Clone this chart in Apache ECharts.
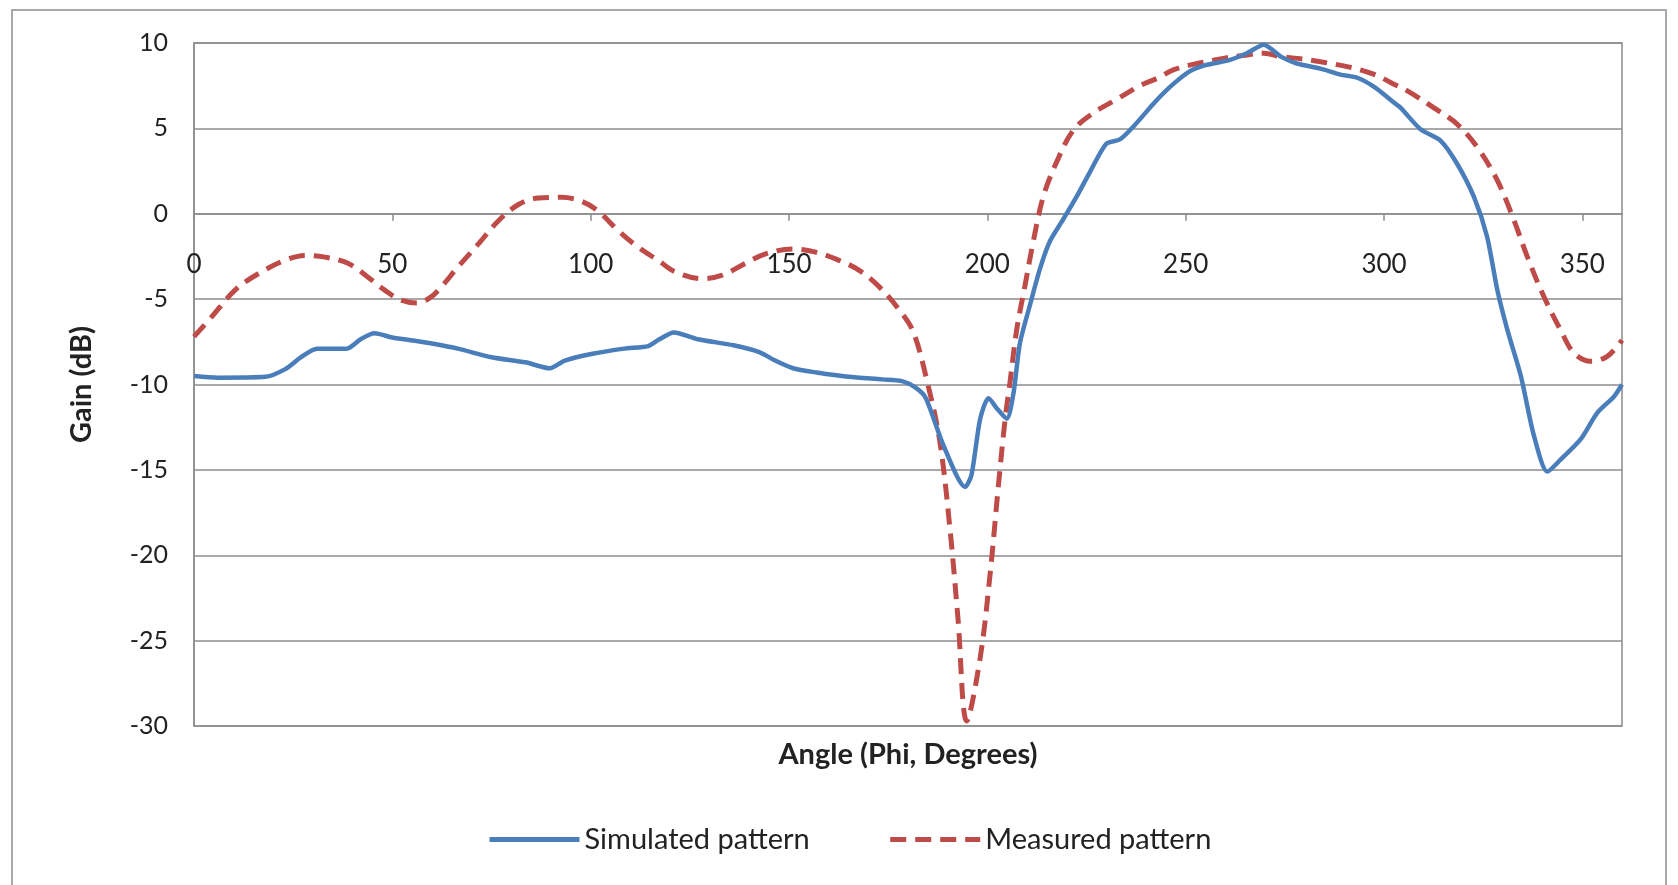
<!DOCTYPE html>
<html>
<head>
<meta charset="utf-8">
<title>Gain pattern</title>
<script src="https://cdn.jsdelivr.net/npm/echarts@6/dist/echarts.min.js"></script>
<style>
  html, body { margin: 0; padding: 0; background: #fff; }
  #chart { width: 1678px; height: 885px; }
</style>
</head>
<body>
<div id="chart"></div>
<script>
// simulated pattern (solid blue)
const simAngle = [0, 6, 18, 23, 27, 31, 38.5, 42, 45.5, 50, 56, 60, 66.5, 75, 83.5, 89.7, 93.5, 100.5, 108.5, 114.5,
  117, 121, 127, 136, 142.5, 146.5, 151, 157, 165, 173.5, 178.5, 182, 184.5, 189, 194.4, 196, 198.2, 200.3, 202.4, 204.9,
  206.6, 208.2, 210.8, 213.3, 215.8, 219.2, 222.5, 226, 230, 233.4, 236.8, 242.5, 246.7, 251, 255, 261, 265.4, 269.7, 274, 278,
  284, 289, 293.4, 297.7, 302, 304.2, 309.2, 314.3, 318.5, 322.7, 326, 328.6, 331.1, 334.5, 337.8, 341.2, 344.5, 349.6, 353.8, 358, 360]
const simGain = [-9.5, -9.6, -9.55, -9.1, -8.4, -7.9, -7.9, -7.35, -7.0, -7.25, -7.45, -7.6, -7.9, -8.4, -8.7, -9.05, -8.6, -8.2, -7.9, -7.75,
  -7.4, -6.95, -7.35, -7.7, -8.1, -8.6, -9.05, -9.3, -9.55, -9.7, -9.8, -10.2, -10.8, -13.6, -16.0, -15.3, -12.0, -10.8, -11.4, -12.0,
  -10.5, -7.6, -5.3, -3.2, -1.6, -0.3, 1.0, 2.5, 4.1, 4.35, 5.1, 6.6, 7.56, 8.34, 8.7, 9.0, 9.4, 9.9, 9.2, 8.8,
  8.5, 8.15, 7.95, 7.4, 6.6, 6.2, 4.95, 4.27, 2.9, 0.97, -1.36, -4.5, -6.8, -9.5, -13.0, -15.1, -14.4, -13.2, -11.65, -10.7, -10.0]

// measured pattern (dashed red)
const measAngle = [0, 4.6, 10.4, 16.3, 22.9, 28, 33, 38.8, 43.8, 48, 52, 56.3, 59.6, 62.4, 66.6, 71.7, 76.7, 81.8, 86.8, 92.7,
  97.7, 101.9, 107, 112, 117, 121.3, 128.2, 133.2, 139, 144.1, 150.8, 156.7, 162.6, 167.6, 172.7, 177.7, 181.3, 184.7, 188, 190.6,
  192.6, 194.8, 198.2, 200.7, 202.8, 204.5, 205.7, 207.4, 209.5, 211.6, 214.1, 217.5, 221.7, 226.7, 232.6, 238.5, 243, 247, 253.5, 259.5,
  265.4, 269.7, 274, 278.2, 284, 291, 297.7, 301.9, 305.9, 312.6, 318.5, 323.5, 328.6, 332.8, 336.1, 340.3, 344.5, 347.9, 352.1, 356.3, 360]
const measGain = [-7.2, -6.0, -4.46, -3.5, -2.73, -2.44, -2.54, -2.9, -3.7, -4.46, -5.04, -5.23, -4.9, -4.27, -3.1, -1.77, -0.42, 0.54, 0.92, 0.96,
  0.73, 0.15, -1.0, -1.96, -2.73, -3.4, -3.8, -3.6, -2.9, -2.35, -2.06, -2.25, -2.73, -3.3, -4.27, -5.6, -6.9, -9.7, -13.3, -18.5,
  -23.7, -29.7, -26.0, -21.1, -15.9, -12.0, -9.9, -6.8, -4.2, -1.6, 1.0, 3.05, 4.9, 5.9, 6.7, 7.5, 7.95, 8.44, 8.83, 9.1,
  9.3, 9.4, 9.2, 9.1, 8.9, 8.6, 8.15, 7.66, 7.2, 6.2, 5.24, 3.9, 1.94, -0.4, -2.5, -4.85, -6.8, -8.16, -8.64, -8.35, -7.4]

const seriesNames = ['Simulated pattern', 'Measured pattern']

const font = 'Lato, "Noto Sans", sans-serif'
const gridColor = '#8c8c8c'

const chart = echarts.init(document.getElementById('chart'))

chart.setOption({
  backgroundColor: '#fff',
  animation: false,
  textStyle: { fontFamily: font, color: '#222' },
  graphic: [{
    type: 'rect',
    shape: { x: 12, y: 10, width: 1654, height: 890 },
    style: { fill: 'none', stroke: '#a8a8a8', lineWidth: 2 },
    silent: true
  }],
  grid: {
    left: 194, right: 56, top: 43, bottom: 159,
    outerBoundsMode: 'none',
    containLabel: false,
    show: true, borderColor: gridColor, borderWidth: 1.5
  },
  legend: {
    top: 820,
    left: 482,
    itemWidth: 90,
    itemHeight: 14,
    itemGap: 78,
    itemStyle: { opacity: 0 },
    lineStyle: { width: 5 },
    textStyle: { fontSize: 29, color: '#222', fontFamily: font },
    data: seriesNames
  },
  xAxis: {
    type: 'value',
    min: 0,
    max: 360,
    interval: 50,
    name: 'Angle (Phi, Degrees)',
    nameLocation: 'middle',
    nameGap: 14,
    nameTextStyle: { fontSize: 29, fontWeight: 'bold', color: '#222' },
    axisLine: { onZero: true, lineStyle: { color: gridColor, width: 1.5 } },
    axisTick: { show: true, length: 7, lineStyle: { color: gridColor, width: 1.5 } },
    // labels sit just under the zero line, as in the original
    axisLabel: { fontSize: 26, color: '#222', margin: -474, showMaxLabel: false },
    splitLine: { show: false }
  },
  yAxis: {
    type: 'value',
    min: -30,
    max: 10,
    interval: 5,
    name: 'Gain (dB)',
    nameLocation: 'middle',
    nameGap: 98,
    nameTextStyle: { fontSize: 29, fontWeight: 'bold', color: '#222' },
    axisLine: { show: true, lineStyle: { color: gridColor, width: 1.5 } },
    axisTick: { show: false },
    axisLabel: { fontSize: 25, color: '#222', margin: 26 },
    splitLine: { show: true, lineStyle: { color: gridColor, width: 1.5 } }
  },
  series: [
    {
      name: seriesNames[0],
      type: 'line',
      data: simAngle.map((a, i) => [a, simGain[i]]),
      symbol: 'none',
      smooth: 0.25,
      lineStyle: { color: '#4a7ebb', width: 4.5 },
      itemStyle: { color: '#4a7ebb' },
      z: 3
    },
    {
      name: seriesNames[1],
      type: 'line',
      data: measAngle.map((a, i) => [a, measGain[i]]),
      symbol: 'none',
      smooth: 0.35,
      lineStyle: { color: '#be4b48', width: 5, type: [16, 9] },
      itemStyle: { color: '#be4b48' },
      z: 2
    }
  ]
})
</script>
</body>
</html>
